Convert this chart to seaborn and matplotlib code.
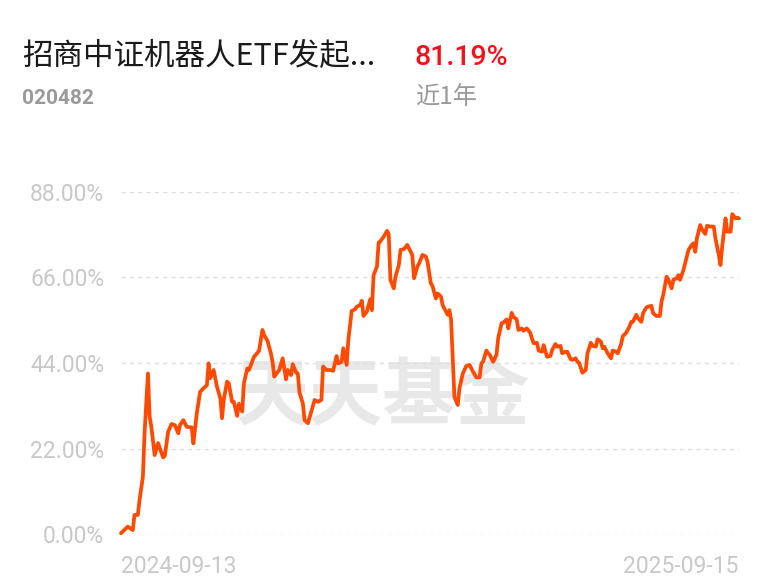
import matplotlib
matplotlib.use("Agg")
import matplotlib.pyplot as plt
import seaborn as sns
import pandas as pd
import numpy as np

# ---- data ----
# days since 2024-09-13 and cumulative return (%)
days = [
    0, 4, 7, 8, 10, 11, 13, 14, 16, 17, 18, 20, 22, 25, 26,
    28, 30, 32, 34, 35, 37, 39, 42, 43, 45, 47, 49, 51, 52, 53,
    55, 57, 59, 60, 61, 63, 64, 66, 67, 69, 70, 72, 73, 75, 76,
    79, 81, 82, 84, 85, 87, 89, 90, 91, 94, 96, 98, 99, 101, 102,
    104, 105, 106, 108, 109, 111, 113, 115, 117, 119, 120, 122, 124, 126, 128,
    129, 131, 132, 134, 135, 137, 139, 140, 142, 143, 144, 146, 148, 149, 150,
    152, 153, 154, 156, 158, 159, 160, 162, 163, 165, 166, 168, 170, 171, 173,
    174, 176, 177, 179, 181, 182, 184, 185, 187, 188, 190, 191, 194, 195, 196,
    198, 200, 201, 203, 205, 207, 209, 211, 213, 214, 215, 217, 218, 219, 221,
    223, 224, 226, 227, 229, 230, 232, 233, 235, 236, 238, 239, 241, 243, 244,
    245, 247, 248, 250, 251, 253, 255, 256, 258, 259, 261, 262, 264, 265, 267,
    268, 270, 271, 272, 274, 276, 277, 279, 280, 282, 283, 285, 286, 287, 289,
    291, 292, 294, 295, 297, 298, 300, 302, 303, 304, 306, 307, 309, 310, 312,
    313, 315, 316, 318, 320, 321, 322, 324, 325, 327, 328, 330, 331, 332, 334,
    336, 337, 339, 340, 341, 342, 344, 345, 347, 348, 350, 352, 353, 355, 356,
    357, 359, 360, 362, 363, 365, 366, 367,
]
returns = [
    0.2, 1.9, 1.0, 4.9, 4.9, 8.7, 14.7, 26.0, 41.3, 30.2, 27.6, 20.3, 23.4, 19.7, 20.1,
    26.3, 28.3, 28.0, 25.9, 28.0, 29.3, 27.6, 27.4, 23.3, 31.0, 36.6, 37.5, 38.3, 43.9, 40.1,
    42.2, 37.9, 34.9, 29.8, 34.5, 39.2, 38.8, 34.0, 34.0, 30.4, 33.5, 31.5, 38.8, 42.6, 42.2,
    45.6, 46.6, 47.2, 52.5, 51.2, 49.7, 46.5, 44.3, 40.5, 42.2, 45.2, 39.8, 42.2, 40.9, 43.7,
    41.5, 41.3, 36.4, 33.6, 29.3, 28.5, 31.5, 34.5, 34.0, 34.5, 43.1, 42.2, 42.2, 42.0, 45.8,
    43.9, 44.3, 47.8, 43.5, 49.9, 57.4, 57.8, 58.5, 58.9, 60.0, 56.1, 57.2, 60.4, 57.6, 66.6,
    68.8, 75.0, 75.3, 76.5, 78.0, 77.2, 65.4, 63.2, 66.2, 69.2, 73.1, 73.3, 74.4, 73.5, 71.8,
    65.8, 68.8, 69.6, 71.8, 71.4, 70.1, 64.5, 63.8, 60.6, 61.9, 61.1, 58.9, 56.4, 57.6, 55.2,
    35.3, 33.2, 37.5, 41.3, 43.2, 43.5, 41.8, 40.3, 40.3, 43.9, 44.3, 47.2, 46.5, 46.1, 44.3,
    46.1, 50.4, 54.2, 54.4, 55.2, 52.9, 56.9, 55.9, 55.2, 52.5, 52.9, 52.3, 52.9, 51.8, 50.4,
    49.1, 49.2, 47.2, 46.9, 48.6, 45.6, 45.8, 47.3, 48.9, 48.2, 48.4, 46.5, 46.9, 46.9, 45.0,
    44.8, 45.2, 44.3, 44.1, 41.5, 42.2, 46.5, 49.2, 48.4, 48.2, 50.1, 49.5, 47.8, 48.2, 46.5,
    45.2, 47.2, 46.9, 46.5, 48.9, 50.9, 51.8, 53.4, 54.6, 54.6, 56.4, 55.5, 54.6, 56.8, 58.3,
    58.5, 58.7, 56.8, 56.1, 56.1, 59.8, 61.5, 66.2, 65.5, 63.2, 65.4, 65.8, 66.6, 65.4, 67.9,
    71.4, 73.1, 74.4, 74.8, 72.6, 76.1, 79.5, 78.4, 77.2, 79.3, 79.1, 79.1, 76.1, 71.8, 69.2,
    73.9, 81.2, 77.8, 77.8, 82.3, 81.2, 81.4, 81.2,
]
start_label = "2024-09-13"
end_label = "2025-09-15"
y_ticks = [0, 22, 44, 66, 88]
y_tick_labels = ["0.00%", "22.00%", "44.00%", "66.00%", "88.00%"]
fund_name = "招商中证机器人ETF发起..."
fund_code = "020482"
period_return = "81.19%"
period_label = "近1年"
watermark = "天天基金"

start = pd.Timestamp(start_label)
end = pd.Timestamp(end_label)
df = pd.DataFrame({"date": start + pd.to_timedelta(days, unit="D"), "ret": returns})

sns.set_theme(style="white")
plt.rcParams["font.family"] = ["Roboto", "Noto Sans CJK SC", "DejaVu Sans"]

fig = plt.figure(figsize=(7.68, 5.85), dpi=100)
ax = fig.add_axes([121 / 768, (585 - 534) / 585, (739 - 121) / 768, (534 - 192) / 585])

# watermark
ax.text(0.424, 0.40, watermark, transform=ax.transAxes, ha="center", va="center",
        fontsize=53, fontweight="black", color="#E8E8E8",
        family=["Noto Sans CJK SC"], zorder=0)

sns.lineplot(data=df, x="date", y="ret", ax=ax, color="#FF4A00", linewidth=2.7,
             zorder=3)
for ln in ax.get_lines():
    ln.set_clip_on(False)
    ln.set_solid_joinstyle("round")

ax.set_xlim(start, end)
ax.set_ylim(0, 88)
ax.set_yticks(y_ticks)
ax.set_yticklabels(y_tick_labels)
for yv in y_ticks:
    ax.axhline(yv, color="#DEDEDE", linewidth=1.0, linestyle=(0, (3, 3)), zorder=1)

ax.set_xticks([start, end])
ax.set_xticklabels([start_label, end_label])
xl = ax.get_xticklabels()
xl[0].set_ha("left")
xl[1].set_ha("right")
ax.tick_params(axis="x", length=0, pad=15, labelsize=16.5, labelcolor="#C8C8C8")
ax.tick_params(axis="y", length=0, pad=12, labelsize=16.5, labelcolor="#C8C8C8")
ax.set_xlabel("")
ax.set_ylabel("")
for s in ax.spines.values():
    s.set_visible(False)
ax.set_facecolor("white")

# header texts
fig.text(22 / 768, 1 - 65 / 585, fund_name, fontsize=22, color="#1A1A1A",
         family=["Noto Sans CJK SC", "DejaVu Sans"], va="baseline", ha="left")
fig.text(415 / 768, 1 - 65 / 585, period_return, fontsize=20.5, color="#F5101A",
         fontweight="medium", family=["Roboto", "DejaVu Sans"], va="baseline", ha="left")
fig.text(22 / 768, 1 - 104 / 585, fund_code, fontsize=15, color="#9A9A9A",
         fontweight="bold", family=["Roboto", "DejaVu Sans"], va="baseline", ha="left")
fig.text(415 / 768, 1 - 104 / 585, period_label, fontsize=17.5, color="#9A9A9A",
         family=["Noto Sans CJK SC", "DejaVu Sans"], va="baseline", ha="left")

fig.savefig("out.png", dpi=100, facecolor="white")
